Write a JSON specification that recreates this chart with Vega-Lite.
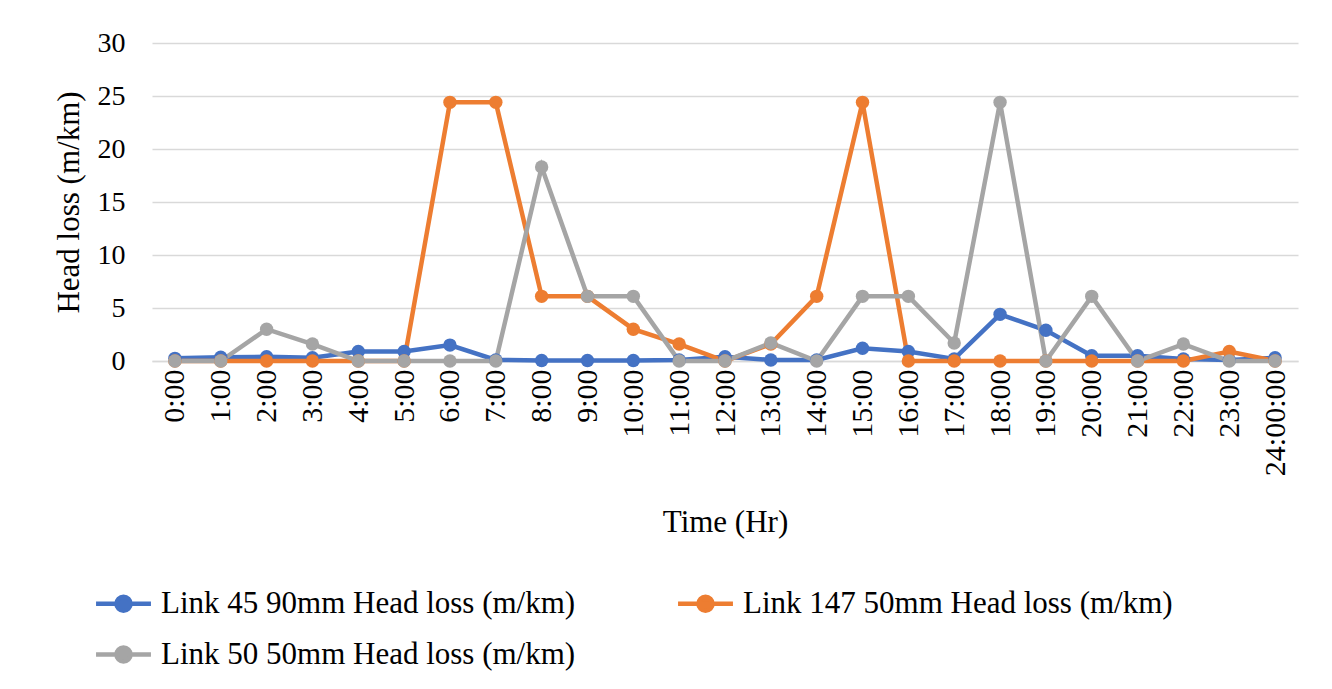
{
  "$schema": "https://vega.github.io/schema/vega-lite/v6.json",
  "autosize": "none",
  "width": 1146,
  "height": 318,
  "padding": {"left": 152, "top": 43, "right": 34, "bottom": 328},
  "background": "white",
  "config": {
    "font": "Liberation Serif",
    "view": {"stroke": null}
  },
  "data": {
    "values": [
      {"t":"0:00","s":"Link 45 90mm Head loss (m/km)","v":0.25},
      {"t":"1:00","s":"Link 45 90mm Head loss (m/km)","v":0.35},
      {"t":"2:00","s":"Link 45 90mm Head loss (m/km)","v":0.4},
      {"t":"3:00","s":"Link 45 90mm Head loss (m/km)","v":0.3},
      {"t":"4:00","s":"Link 45 90mm Head loss (m/km)","v":0.9},
      {"t":"5:00","s":"Link 45 90mm Head loss (m/km)","v":0.9},
      {"t":"6:00","s":"Link 45 90mm Head loss (m/km)","v":1.5},
      {"t":"7:00","s":"Link 45 90mm Head loss (m/km)","v":0.1},
      {"t":"8:00","s":"Link 45 90mm Head loss (m/km)","v":0.05},
      {"t":"9:00","s":"Link 45 90mm Head loss (m/km)","v":0.05},
      {"t":"10:00","s":"Link 45 90mm Head loss (m/km)","v":0.05},
      {"t":"11:00","s":"Link 45 90mm Head loss (m/km)","v":0.1},
      {"t":"12:00","s":"Link 45 90mm Head loss (m/km)","v":0.4},
      {"t":"13:00","s":"Link 45 90mm Head loss (m/km)","v":0.1},
      {"t":"14:00","s":"Link 45 90mm Head loss (m/km)","v":0.1},
      {"t":"15:00","s":"Link 45 90mm Head loss (m/km)","v":1.2},
      {"t":"16:00","s":"Link 45 90mm Head loss (m/km)","v":0.9},
      {"t":"17:00","s":"Link 45 90mm Head loss (m/km)","v":0.2},
      {"t":"18:00","s":"Link 45 90mm Head loss (m/km)","v":4.4},
      {"t":"19:00","s":"Link 45 90mm Head loss (m/km)","v":2.9},
      {"t":"20:00","s":"Link 45 90mm Head loss (m/km)","v":0.5},
      {"t":"21:00","s":"Link 45 90mm Head loss (m/km)","v":0.5},
      {"t":"22:00","s":"Link 45 90mm Head loss (m/km)","v":0.2},
      {"t":"23:00","s":"Link 45 90mm Head loss (m/km)","v":0.1},
      {"t":"24:00:00","s":"Link 45 90mm Head loss (m/km)","v":0.3},
      {"t":"0:00","s":"Link 147 50mm Head loss (m/km)","v":0},
      {"t":"1:00","s":"Link 147 50mm Head loss (m/km)","v":0},
      {"t":"2:00","s":"Link 147 50mm Head loss (m/km)","v":0},
      {"t":"3:00","s":"Link 147 50mm Head loss (m/km)","v":0},
      {"t":"4:00","s":"Link 147 50mm Head loss (m/km)","v":0},
      {"t":"5:00","s":"Link 147 50mm Head loss (m/km)","v":0},
      {"t":"6:00","s":"Link 147 50mm Head loss (m/km)","v":24.4},
      {"t":"7:00","s":"Link 147 50mm Head loss (m/km)","v":24.4},
      {"t":"8:00","s":"Link 147 50mm Head loss (m/km)","v":6.1},
      {"t":"9:00","s":"Link 147 50mm Head loss (m/km)","v":6.1},
      {"t":"10:00","s":"Link 147 50mm Head loss (m/km)","v":3.0},
      {"t":"11:00","s":"Link 147 50mm Head loss (m/km)","v":1.6},
      {"t":"12:00","s":"Link 147 50mm Head loss (m/km)","v":0},
      {"t":"13:00","s":"Link 147 50mm Head loss (m/km)","v":1.6},
      {"t":"14:00","s":"Link 147 50mm Head loss (m/km)","v":6.1},
      {"t":"15:00","s":"Link 147 50mm Head loss (m/km)","v":24.4},
      {"t":"16:00","s":"Link 147 50mm Head loss (m/km)","v":0},
      {"t":"17:00","s":"Link 147 50mm Head loss (m/km)","v":0},
      {"t":"18:00","s":"Link 147 50mm Head loss (m/km)","v":0},
      {"t":"19:00","s":"Link 147 50mm Head loss (m/km)","v":0},
      {"t":"20:00","s":"Link 147 50mm Head loss (m/km)","v":0},
      {"t":"21:00","s":"Link 147 50mm Head loss (m/km)","v":0},
      {"t":"22:00","s":"Link 147 50mm Head loss (m/km)","v":0},
      {"t":"23:00","s":"Link 147 50mm Head loss (m/km)","v":0.9},
      {"t":"24:00:00","s":"Link 147 50mm Head loss (m/km)","v":0},
      {"t":"0:00","s":"Link 50 50mm Head loss (m/km)","v":0},
      {"t":"1:00","s":"Link 50 50mm Head loss (m/km)","v":0},
      {"t":"2:00","s":"Link 50 50mm Head loss (m/km)","v":3.0},
      {"t":"3:00","s":"Link 50 50mm Head loss (m/km)","v":1.6},
      {"t":"4:00","s":"Link 50 50mm Head loss (m/km)","v":0},
      {"t":"5:00","s":"Link 50 50mm Head loss (m/km)","v":0},
      {"t":"6:00","s":"Link 50 50mm Head loss (m/km)","v":0},
      {"t":"7:00","s":"Link 50 50mm Head loss (m/km)","v":0},
      {"t":"8:00","s":"Link 50 50mm Head loss (m/km)","v":18.3},
      {"t":"9:00","s":"Link 50 50mm Head loss (m/km)","v":6.1},
      {"t":"10:00","s":"Link 50 50mm Head loss (m/km)","v":6.1},
      {"t":"11:00","s":"Link 50 50mm Head loss (m/km)","v":0},
      {"t":"12:00","s":"Link 50 50mm Head loss (m/km)","v":0},
      {"t":"13:00","s":"Link 50 50mm Head loss (m/km)","v":1.7},
      {"t":"14:00","s":"Link 50 50mm Head loss (m/km)","v":0},
      {"t":"15:00","s":"Link 50 50mm Head loss (m/km)","v":6.1},
      {"t":"16:00","s":"Link 50 50mm Head loss (m/km)","v":6.1},
      {"t":"17:00","s":"Link 50 50mm Head loss (m/km)","v":1.7},
      {"t":"18:00","s":"Link 50 50mm Head loss (m/km)","v":24.4},
      {"t":"19:00","s":"Link 50 50mm Head loss (m/km)","v":0},
      {"t":"20:00","s":"Link 50 50mm Head loss (m/km)","v":6.1},
      {"t":"21:00","s":"Link 50 50mm Head loss (m/km)","v":0},
      {"t":"22:00","s":"Link 50 50mm Head loss (m/km)","v":1.6},
      {"t":"23:00","s":"Link 50 50mm Head loss (m/km)","v":0},
      {"t":"24:00:00","s":"Link 50 50mm Head loss (m/km)","v":0}
    ]
  },
  "encoding": {
    "x": {
      "field": "t", "type": "ordinal", "sort": null,
      "scale": {"type": "point", "padding": 0.5},
      "axis": {
        "title": "Time (Hr)", "titleFontSize": 31, "titleFontWeight": "normal", "titleColor": "#000", "titlePadding": 32,
        "labelAngle": -90, "labelFontSize": 30, "labelColor": "#000", "labelPadding": 8,
        "ticks": false, "domain": true, "domainColor": "#d9d9d9", "domainWidth": 1.5, "grid": false
      }
    },
    "y": {
      "field": "v", "type": "quantitative",
      "scale": {"domain": [0, 30], "nice": false},
      "axis": {
        "title": "Head loss (m/km)", "titleFontSize": 31, "titleFontWeight": "normal", "titleColor": "#000", "titlePadding": 12,
        "values": [0, 5, 10, 15, 20, 25, 30], "labelFontSize": 28, "labelColor": "#000", "labelPadding": 27,
        "ticks": false, "domain": false, "grid": true, "gridColor": "#d9d9d9", "gridWidth": 1.5
      }
    },
    "color": {
      "field": "s", "type": "nominal",
      "scale": {
        "domain": ["Link 45 90mm Head loss (m/km)", "Link 147 50mm Head loss (m/km)", "Link 50 50mm Head loss (m/km)"],
        "range": ["#4472C4", "#ED7D31", "#A5A5A5"]
      },
      "legend": {
        "title": null, "orient": "none", "legendX": -46, "legendY": 543, "columns": 2,
        "direction": "horizontal",
        "columnPadding": 93, "rowPadding": 17,
        "labelFontSize": 31, "labelColor": "#000", "labelOffset": 20, "labelLimit": 700,
        "symbolType": "M-1.83,0L1.83,0M-0.47,0A0.47,0.47,0,1,1,0.47,0A0.47,0.47,0,1,1,-0.47,0",
        "symbolSize": 900, "symbolStrokeWidth": 4.5
      }
    }
  },
  "layer": [
    {"mark": {"type": "line", "strokeWidth": 4.5}},
    {"mark": {"type": "point", "filled": true, "size": 180, "opacity": 1}}
  ]
}
